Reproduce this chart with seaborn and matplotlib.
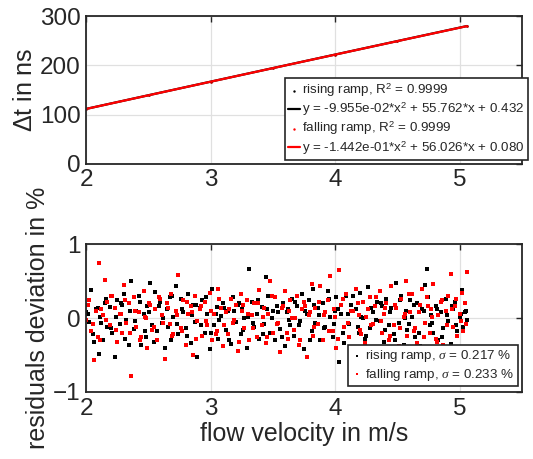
import matplotlib
matplotlib.use('AGG')

import matplotlib.pyplot as plt
import seaborn as sns
import numpy as np
import pandas as pd

top_velocity = [2.00, 2.50, 3.00, 3.50, 4.00, 4.50, 5.06]
dt_rising = [111.6, 139.5, 166.8, 194.4, 221.9, 249.3, 279.8]
dt_falling = [111.5, 139.4, 166.7, 194.3, 221.8, 249.1, 279.6]

legend_top = ['rising ramp, R$^2$ = 0.9999',
              'y = -9.955e-02*x$^2$ + 55.762*x + 0.432',
              'falling ramp, R$^2$ = 0.9999',
              'y = -1.442e-01*x$^2$ + 56.026*x + 0.080']

# bottom panel: residuals in %, estimated point by point
velocity = [2.00, 2.02, 2.04, 2.06, 2.08, 2.10, 2.11, 2.13, 2.15, 2.17,
            2.19, 2.21, 2.23, 2.25, 2.27, 2.29, 2.30, 2.32, 2.34, 2.36,
            2.38, 2.40, 2.42, 2.44, 2.46, 2.48, 2.49, 2.51, 2.53, 2.55,
            2.57, 2.59, 2.61, 2.63, 2.65, 2.67, 2.68, 2.70, 2.72, 2.74,
            2.76, 2.78, 2.80, 2.82, 2.84, 2.86, 2.87, 2.89, 2.91, 2.93,
            2.95, 2.97, 2.99, 3.01, 3.03, 3.05, 3.06, 3.08, 3.10, 3.12,
            3.14, 3.16, 3.18, 3.20, 3.22, 3.24, 3.25, 3.27, 3.29, 3.31,
            3.33, 3.35, 3.37, 3.39, 3.41, 3.43, 3.44, 3.46, 3.48, 3.50,
            3.52, 3.54, 3.56, 3.58, 3.60, 3.62, 3.63, 3.65, 3.67, 3.69,
            3.71, 3.73, 3.75, 3.77, 3.79, 3.81, 3.82, 3.84, 3.86, 3.88,
            3.90, 3.92, 3.94, 3.96, 3.98, 4.00, 4.01, 4.03, 4.05, 4.07,
            4.09, 4.11, 4.13, 4.15, 4.17, 4.19, 4.20, 4.22, 4.24, 4.26,
            4.28, 4.30, 4.32, 4.34, 4.36, 4.38, 4.39, 4.41, 4.43, 4.45,
            4.47, 4.49, 4.51, 4.53, 4.55, 4.57, 4.58, 4.60, 4.62, 4.64,
            4.66, 4.68, 4.70, 4.72, 4.74, 4.76, 4.77, 4.79, 4.81, 4.83,
            4.85, 4.87, 4.89, 4.91, 4.93, 4.95, 4.96, 4.98, 5.00, 5.02,
            5.03, 5.04, 5.05, 5.06]

res_rising = [0.08, -0.05, 0.38, -0.32, 0.12, -0.48, 0.02, -0.30, 0.20, -0.12,
              0.15, -0.20, -0.53, 0.24, -0.08, 0.18, 0.33, -0.02, -0.36, 0.50,
              -0.15, 0.10, 0.30, -0.36, 0.05, -0.25, 0.16, 0.48, -0.10, 0.35,
              -0.18, 0.22, -0.06, -0.40, 0.12, 0.28, -0.30, 0.02, 0.44, -0.22,
              0.26, 0.08, -0.14, 0.32, -0.34, 0.18, -0.05, -0.52, 0.14, 0.25,
              -0.20, 0.06, -0.42, 0.40, -0.10, 0.15, -0.28, 0.03, 0.20, -0.16,
              0.10, -0.35, 0.28, -0.05, 0.18, -0.22, 0.12, 0.00, -0.40, 0.67,
              0.22, -0.12, 0.05, -0.28, 0.15, -0.08, 0.55, 0.30, -0.20, 0.10,
              -0.30, 0.08, -0.15, 0.20, -0.38, 0.12, -0.02, 0.26, -0.24, 0.16,
              -0.10, 0.32, -0.42, 0.06, 0.24, -0.18, 0.40, -0.06, 0.14, -0.30,
              0.20, -0.12, 0.36, 0.02, -0.26, 0.10, 0.28, -0.60, 0.06, -0.34,
              0.30, -0.08, 0.18, -0.40, 0.12, -0.20, 0.34, 0.00, -0.28, 0.42,
              -0.14, 0.08, -0.45, 0.22, -0.04, 0.16, -0.32, 0.26, -0.10, 0.14,
              -0.22, 0.48, -0.06, 0.30, -0.36, 0.10, -0.16, 0.24, 0.02, -0.26,
              0.20, -0.38, 0.12, 0.45, 0.66, -0.10, 0.04, -0.20, 0.16, -0.30,
              0.08, -0.14, 0.26, -0.04, -0.35, 0.12, 0.22, -0.18, 0.02, 0.38,
              -0.12, 0.08, 0.10, -0.02]

res_falling = [-0.02, 0.25, -0.18, -0.57, 0.10, 0.74, -0.30, 0.04, 0.52, 0.22,
               -0.10, 0.30, 0.14, -0.32, 0.06, -0.20, 0.45, -0.06, 0.20, -0.78,
               0.28, -0.12, 0.08, -0.26, 0.36, 0.00, -0.40, 0.18, -0.16, 0.12,
               -0.30, 0.26, 0.04, -0.56, 0.20, -0.08, 0.32, -0.22, 0.10, 0.58,
               -0.14, 0.24, -0.36, 0.06, 0.16, -0.50, 0.30, -0.04, 0.12, -0.24,
               0.22, -0.10, 0.34, -0.30, 0.05, -0.18, 0.40, 0.14, -0.38, 0.08,
               -0.22, 0.26, -0.06, 0.18, -0.44, 0.32, 0.10, -0.14, 0.24, -0.30,
               0.04, 0.20, -0.26, 0.38, -0.10, 0.14, -0.34, 0.06, 0.50, -0.20,
               0.28, -0.06, -0.46, 0.16, 0.36, -0.28, 0.10, 0.00, -0.16, 0.30,
               -0.36, 0.12, 0.22, -0.52, 0.04, 0.46, -0.24, 0.14, -0.08, 0.44,
               -0.30, 0.08, 0.24, 0.57, -0.18, 0.02, -0.40, 0.65, 0.18, -0.12,
               0.32, -0.26, 0.10, -0.44, 0.40, 0.04, -0.16, 0.22, -0.34, 0.12,
               0.28, -0.08, 0.16, -0.40, 0.36, -0.20, 0.06, 0.20, -0.30, 0.44,
               -0.10, 0.14, -0.38, 0.26, 0.02, 0.50, -0.24, 0.08, 0.32, -0.14,
               -0.34, 0.18, 0.40, -0.06, 0.28, -0.20, 0.12, 0.46, -0.28, 0.04,
               0.22, -0.36, 0.10, 0.30, 0.59, -0.12, 0.16, -0.24, 0.06, 0.34,
               -0.18, 0.20, -0.08, 0.63]

# second pass of the ramps (points between the ones above)
velocity_b = [2.01, 2.05, 2.09, 2.12, 2.16, 2.20, 2.24, 2.28, 2.31, 2.35,
              2.39, 2.43, 2.47, 2.50, 2.54, 2.58, 2.62, 2.66, 2.69, 2.73,
              2.77, 2.81, 2.85, 2.88, 2.92, 2.96, 3.00, 3.04, 3.07, 3.11,
              3.15, 3.19, 3.23, 3.26, 3.30, 3.34, 3.38, 3.42, 3.45, 3.49,
              3.53, 3.57, 3.61, 3.64, 3.68, 3.72, 3.76, 3.80, 3.83, 3.87,
              3.91, 3.95, 3.99, 4.02, 4.06, 4.10, 4.14, 4.18, 4.21, 4.25,
              4.29, 4.33, 4.37, 4.40, 4.44, 4.48, 4.52, 4.56, 4.59, 4.63,
              4.67, 4.71, 4.75, 4.78, 4.82, 4.86, 4.90, 4.94, 4.97, 5.01]

res_rising_b = [0.05, -0.22, 0.14, -0.06, 0.26, -0.14, 0.02, 0.20, -0.28, 0.10,
                -0.04, 0.22, -0.18, 0.08, -0.32, 0.16, 0.00, -0.12, 0.30, -0.08,
                0.12, -0.24, 0.04, 0.18, -0.10, 0.28, -0.20, 0.06, -0.02, 0.14,
                -0.30, 0.10, 0.20, -0.16, 0.02, -0.06, 0.24, -0.22, 0.12, 0.00,
                0.16, -0.26, 0.08, -0.10, 0.22, -0.04, 0.10, -0.30, 0.18, 0.04,
                -0.14, 0.26, -0.08, 0.12, -0.20, 0.06, 0.30, -0.12, 0.02, -0.24,
                0.14, -0.02, 0.20, -0.16, 0.08, -0.30, 0.24, 0.00, -0.08, 0.18,
                -0.20, 0.10, 0.28, -0.06, 0.12, -0.26, 0.04, 0.16, -0.10, 0.06]

res_falling_b = [0.18, -0.08, -0.26, 0.12, -0.02, 0.30, -0.16, 0.06, 0.24, -0.20,
                 0.10, -0.30, 0.02, 0.20, -0.12, 0.28, -0.06, 0.14, -0.24, 0.04,
                 -0.18, 0.22, 0.08, -0.28, 0.16, -0.04, 0.10, -0.22, 0.26, -0.10,
                 0.12, -0.02, -0.32, 0.18, 0.06, -0.14, 0.20, 0.02, -0.26, 0.30,
                 -0.08, 0.14, -0.20, 0.24, 0.00, -0.30, 0.16, 0.08, -0.12, 0.22,
                 0.04, -0.18, 0.12, -0.28, 0.26, -0.06, 0.10, 0.20, -0.22, 0.02,
                 -0.10, 0.28, -0.04, 0.14, -0.24, 0.18, -0.14, 0.06, 0.32, -0.18,
                 0.08, -0.26, 0.16, 0.02, -0.32, 0.24, -0.10, 0.12, 0.26, -0.04]

legend_bottom = [r'rising ramp, $\sigma$ = 0.217 %',
                 r'falling ramp, $\sigma$ = 0.233 %']

sns.set_style('whitegrid')
plt.rcParams['font.family'] = ['Liberation Sans', 'DejaVu Sans']
plt.rcParams['mathtext.fontset'] = 'custom'
plt.rcParams['mathtext.rm'] = 'Liberation Sans'
plt.rcParams['mathtext.it'] = 'Liberation Serif:italic'

fig = plt.figure(figsize=(5.33, 4.59), dpi=100)
ax1 = fig.add_axes([0.162, 0.643, 0.817, 0.322])
ax2 = fig.add_axes([0.162, 0.146, 0.817, 0.322])

top = pd.DataFrame({'v': top_velocity, 'rise': dt_rising, 'fall': dt_falling})
p_rise = np.polyfit(top.v, top.rise, 2)
p_fall = np.polyfit(top.v, top.fall, 2)
top['fit_rise'] = np.polyval(p_rise, top.v)
top['fit_fall'] = np.polyval(p_fall, top.v)

sns.scatterplot(data=top, x='v', y='rise', ax=ax1, color='black', s=3,
                linewidth=0, label=legend_top[0])
sns.lineplot(data=top, x='v', y='fit_rise', ax=ax1, color='black', lw=1.6,
             label=legend_top[1])
sns.scatterplot(data=top, x='v', y='fall', ax=ax1, color='red', s=3,
                linewidth=0, label=legend_top[2])
sns.lineplot(data=top, x='v', y='fit_fall', ax=ax1, color='red', lw=1.6,
             label=legend_top[3])

res = pd.DataFrame({'v': velocity + velocity_b,
                    'rise': res_rising + res_rising_b,
                    'fall': res_falling + res_falling_b})
sns.scatterplot(data=res, x='v', y='rise', ax=ax2, color='black', s=5,
                marker='s', linewidth=0, label=legend_bottom[0])
sns.scatterplot(data=res, x='v', y='fall', ax=ax2, color='red', s=5,
                marker='s', linewidth=0, label=legend_bottom[1])

ax1.set_ylim(0, 300)
ax1.set_yticks([0, 100, 200, 300])
ax2.set_ylim(-1, 1)
ax2.set_yticks([-1, 0, 1])

for ax in (ax1, ax2):
    ax.set_xlim(2, 5.5)
    ax.set_xticks([2, 3, 4, 5])
    ax.grid(True, color='#e0e0e0', lw=0.9)
    for sp in ax.spines.values():
        sp.set_color('#262626')
        sp.set_linewidth(1.3)
    ax.tick_params(direction='in', length=4, width=1, colors='#262626',
                   labelsize=17.5, top=True, right=True, pad=4)
    ax.set_xlabel('')

ax1.set_ylabel('$\\Delta$t in ns', fontsize=18, color='#262626', labelpad=2)
ax2.set_ylabel('residuals deviation in %', fontsize=18, color='#262626', labelpad=2)
ax2.set_xlabel('flow velocity in m/s', fontsize=18, color='#262626', labelpad=2)

leg1 = ax1.legend(loc='lower right', bbox_to_anchor=(1.014, 0.027), fontsize=9.6,
                  frameon=True, fancybox=False, framealpha=1, edgecolor='#262626',
                  handlelength=0.9, handletextpad=0.15, borderpad=0.25,
                  labelspacing=0.12, borderaxespad=0)
leg1.get_frame().set_linewidth(1.2)
leg2 = ax2.legend(loc='lower right', bbox_to_anchor=(0.991, 0.04), fontsize=9.6,
                  frameon=True, fancybox=False, framealpha=1, edgecolor='#262626',
                  handlelength=0.9, handletextpad=0.15, borderpad=0.25,
                  labelspacing=0.2, borderaxespad=0, markerscale=0.7)
leg2.get_frame().set_linewidth(1.2)

fig.savefig('out.png', dpi=100)
